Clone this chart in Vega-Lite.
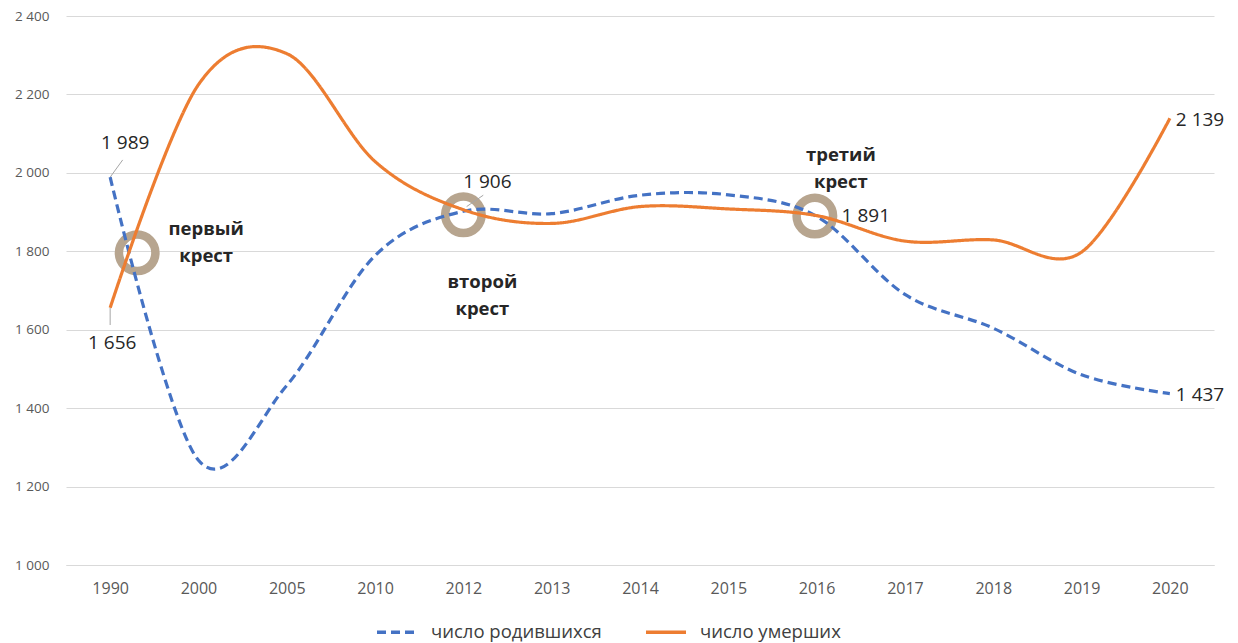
{
  "$schema": "https://vega.github.io/schema/vega-lite/v6.json",
  "width": 1148,
  "height": 549,
  "autosize": {"type": "none"},
  "padding": {"left": 66, "top": 16, "right": 24, "bottom": 78},
  "background": "white",
  "config": {"view": {"stroke": null}, "font": "Open Sans"},
  "datasets": {
    "series": [
      {"i": 0, "year": "1990", "series": "число родившихся", "value": 1989},
      {"i": 1, "year": "2000", "series": "число родившихся", "value": 1267},
      {"i": 2, "year": "2005", "series": "число родившихся", "value": 1458},
      {"i": 3, "year": "2010", "series": "число родившихся", "value": 1789},
      {"i": 4, "year": "2012", "series": "число родившихся", "value": 1902},
      {"i": 5, "year": "2013", "series": "число родившихся", "value": 1896},
      {"i": 6, "year": "2014", "series": "число родившихся", "value": 1943},
      {"i": 7, "year": "2015", "series": "число родившихся", "value": 1944},
      {"i": 8, "year": "2016", "series": "число родившихся", "value": 1889},
      {"i": 9, "year": "2017", "series": "число родившихся", "value": 1690},
      {"i": 10, "year": "2018", "series": "число родившихся", "value": 1604},
      {"i": 11, "year": "2019", "series": "число родившихся", "value": 1485},
      {"i": 12, "year": "2020", "series": "число родившихся", "value": 1437},
      {"i": 0, "year": "1990", "series": "число умерших", "value": 1656},
      {"i": 1, "year": "2000", "series": "число умерших", "value": 2225},
      {"i": 2, "year": "2005", "series": "число умерших", "value": 2304},
      {"i": 3, "year": "2010", "series": "число умерших", "value": 2029},
      {"i": 4, "year": "2012", "series": "число умерших", "value": 1906},
      {"i": 5, "year": "2013", "series": "число умерших", "value": 1871},
      {"i": 6, "year": "2014", "series": "число умерших", "value": 1914},
      {"i": 7, "year": "2015", "series": "число умерших", "value": 1908},
      {"i": 8, "year": "2016", "series": "число умерших", "value": 1891},
      {"i": 9, "year": "2017", "series": "число умерших", "value": 1826},
      {"i": 10, "year": "2018", "series": "число умерших", "value": 1829},
      {"i": 11, "year": "2019", "series": "число умерших", "value": 1798},
      {"i": 12, "year": "2020", "series": "число умерших", "value": 2139}
    ],
    "crosses": [
      {"key": "c1", "i": 0.306, "v": 1796, "text": ["первый", "крест"]},
      {"key": "c2", "i": 4.0, "v": 1893, "text": ["второй", "крест"]},
      {"key": "c3", "i": 7.98, "v": 1890, "text": ["третий", "крест"]}
    ],
    "labels": [
      {"key": "b1990", "i": 0, "v": 1989, "text": "1 989"},
      {"key": "d1990", "i": 0, "v": 1656, "text": "1 656"},
      {"key": "d2012", "i": 4, "v": 1906, "text": "1 906"},
      {"key": "d2016", "i": 8, "v": 1891, "text": "1 891"},
      {"key": "b2020", "i": 12, "v": 1437, "text": "1 437"},
      {"key": "d2020", "i": 12, "v": 2139, "text": "2 139"}
    ],
    "leaders": [
      {"i": 0, "v": 1989, "i2": 0.142, "v2": 2033},
      {"i": 0, "v": 1656, "i2": 0, "v2": 1612},
      {"i": 4.037, "v": 1914, "i2": 4.225, "v2": 1943}
    ]
  },
  "encoding": {
    "x": {
      "field": "i", "type": "quantitative",
      "scale": {"domain": [-0.5, 12.5], "nice": false, "zero": false},
      "axis": {
        "values": [0, 1, 2, 3, 4, 5, 6, 7, 8, 9, 10, 11, 12],
        "labelExpr": "['1990','2000','2005','2010','2012','2013','2014','2015','2016','2017','2018','2019','2020'][datum.value]",
        "grid": false, "ticks": false, "domain": true, "domainColor": "#d9d9d9",
        "labelFontSize": 16, "labelColor": "#595959", "labelPadding": 15, "title": null, "labelFont": "Open Sans"
      }
    },
    "y": {
      "field": "v", "type": "quantitative",
      "scale": {"domain": [1000, 2400], "nice": false, "zero": false},
      "axis": {
        "values": [1000, 1200, 1400, 1600, 1800, 2000, 2200, 2400],
        "labelExpr": "replace(format(datum.value, ','), ',', ' ')",
        "grid": true, "gridColor": "#d9d9d9", "domain": false, "ticks": false,
        "labelFontSize": 13.5, "labelColor": "#595959", "labelPadding": 17, "title": null, "labelFont": "Open Sans"
      }
    }
  },
  "layer": [
    {
      "data": {"name": "crosses"},
      "mark": {"type": "point", "shape": "circle", "filled": false, "size": 1332, "strokeWidth": 8.5, "color": "#B7A58F", "opacity": 1}
    },
    {
      "data": {"name": "leaders"},
      "mark": {"type": "rule", "color": "#a6a6a6", "strokeWidth": 1},
      "encoding": {"x2": {"field": "i2"}, "y2": {"field": "v2"}}
    },
    {
      "data": {"name": "series"},
      "mark": {"type": "line", "interpolate": "cardinal", "strokeWidth": 3.2},
      "encoding": {
        "y": {"field": "value", "type": "quantitative"},
        "color": {
          "field": "series", "type": "nominal",
          "scale": {"domain": ["число родившихся", "число умерших"], "range": ["#4472C4", "#ED7D31"]},
          "legend": {
            "title": null, "orient": "none", "legendX": 309, "legendY": 594, "direction": "horizontal",
            "symbolType": "stroke", "symbolSize": 1600, "symbolStrokeWidth": 3.5,
            "labelFontSize": 18.5, "labelColor": "#404040", "labelFont": "Open Sans", "labelBaseline": "middle", "labelLimit": 400,
            "columnPadding": 37, "labelOffset": 12, "padding": 0
          }
        },
        "strokeDash": {
          "field": "series", "type": "nominal",
          "scale": {"domain": ["число родившихся", "число умерших"], "range": [[9, 5], [1, 0]]},
          "legend": {
            "title": null, "orient": "none", "legendX": 309, "legendY": 594, "direction": "horizontal",
            "symbolType": "stroke", "symbolSize": 1600, "symbolStrokeWidth": 3.5,
            "labelFontSize": 18.5, "labelColor": "#404040", "labelFont": "Open Sans", "labelBaseline": "middle", "labelLimit": 400,
            "columnPadding": 37, "labelOffset": 12, "padding": 0
          }
        }
      }
    },
    {
      "data": {"name": "labels"},
      "transform": [{"filter": "datum.key === 'b1990'"}],
      "mark": {"type": "text", "fontSize": 19, "color": "#262626", "align": "center", "baseline": "middle", "dx": 15, "dy": -34},
      "encoding": {"text": {"field": "text"}}
    },
    {
      "data": {"name": "labels"},
      "transform": [{"filter": "datum.key === 'd1990'"}],
      "mark": {"type": "text", "fontSize": 19, "color": "#262626", "align": "center", "baseline": "middle", "dx": 2, "dy": 35},
      "encoding": {"text": {"field": "text"}}
    },
    {
      "data": {"name": "labels"},
      "transform": [{"filter": "datum.key === 'd2012'"}],
      "mark": {"type": "text", "fontSize": 19, "color": "#262626", "align": "center", "baseline": "middle", "dx": 24, "dy": -28},
      "encoding": {"text": {"field": "text"}}
    },
    {
      "data": {"name": "labels"},
      "transform": [{"filter": "datum.key === 'd2016'"}],
      "mark": {"type": "text", "fontSize": 19, "color": "#262626", "align": "left", "baseline": "middle", "dx": 25, "dy": 0},
      "encoding": {"text": {"field": "text"}}
    },
    {
      "data": {"name": "labels"},
      "transform": [{"filter": "datum.key === 'b2020'"}],
      "mark": {"type": "text", "fontSize": 19, "color": "#262626", "align": "left", "baseline": "middle", "dx": 6, "dy": 1.5},
      "encoding": {"text": {"field": "text"}}
    },
    {
      "data": {"name": "labels"},
      "transform": [{"filter": "datum.key === 'd2020'"}],
      "mark": {"type": "text", "fontSize": 19, "color": "#262626", "align": "left", "baseline": "middle", "dx": 6, "dy": 2},
      "encoding": {"text": {"field": "text"}}
    },
    {
      "data": {"name": "crosses"},
      "transform": [{"filter": "datum.key === 'c1'"}],
      "mark": {"type": "text", "fontSize": 18.5, "fontWeight": "bold", "color": "#262626", "align": "center", "baseline": "middle", "lineHeight": 27, "dx": 69, "dy": -24},
      "encoding": {"text": {"field": "text"}}
    },
    {
      "data": {"name": "crosses"},
      "transform": [{"filter": "datum.key === 'c2'"}],
      "mark": {"type": "text", "fontSize": 18.5, "fontWeight": "bold", "color": "#262626", "align": "center", "baseline": "middle", "lineHeight": 27, "dx": 19, "dy": 67},
      "encoding": {"text": {"field": "text"}}
    },
    {
      "data": {"name": "crosses"},
      "transform": [{"filter": "datum.key === 'c3'"}],
      "mark": {"type": "text", "fontSize": 18.5, "fontWeight": "bold", "color": "#262626", "align": "center", "baseline": "middle", "lineHeight": 27, "dx": 26, "dy": -61},
      "encoding": {"text": {"field": "text"}}
    }
  ]
}
